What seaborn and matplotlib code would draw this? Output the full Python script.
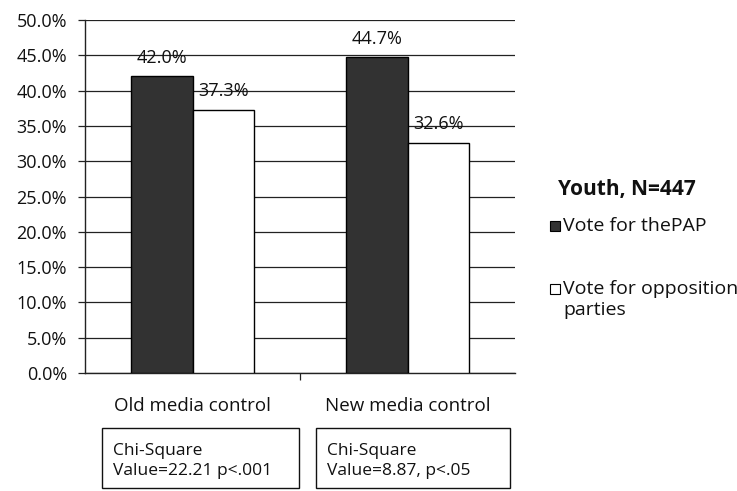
import matplotlib
matplotlib.use("Agg")
import matplotlib.pyplot as plt
from matplotlib.patches import Rectangle
from matplotlib.ticker import FuncFormatter, FixedLocator
import pandas as pd
import seaborn as sns

categories = ["Old media control", "New media control"]
series_names = ["Vote for thePAP", "Vote for opposition\nparties"]
pap_values = [42.0, 44.7]
opposition_values = [37.3, 32.6]
chi_square_notes = ["Chi-Square\nValue=22.21 p<.001", "Chi-Square\nValue=8.87, p<.05"]
legend_title = "Youth, N=447"

df = pd.DataFrame({
    "category": categories * 2,
    "series": [series_names[0]] * 2 + [series_names[1]] * 2,
    "value": pap_values + opposition_values,
})

sns.set_theme(style="white")
plt.rcParams["font.family"] = ["Open Sans", "DejaVu Sans"]

W, H = 737, 491
fig = plt.figure(figsize=(W / 100, H / 100), dpi=100)
ax = fig.add_axes([85 / W, 1 - 373 / H, 430 / W, 353 / H])

colors = {series_names[0]: "#323232", series_names[1]: "#ffffff"}
sns.barplot(data=df, x="category", y="value", hue="series", order=categories,
            hue_order=series_names, palette=colors, width=0.57, gap=0,
            edgecolor="black", linewidth=1.0, legend=False, ax=ax, zorder=3)

ax.set_ylim(0, 50)
ax.set_xlim(-0.5, 1.5)
ax.yaxis.set_major_locator(FixedLocator([i * 5 for i in range(11)]))
ax.yaxis.set_major_formatter(FuncFormatter(lambda v, _: f"{v:.1f}%"))
ax.grid(axis="y", color="#222222", linewidth=0.9, zorder=0)
ax.set_axisbelow(True)
for side in ["top", "right"]:
    ax.spines[side].set_visible(False)
for side in ["left", "bottom"]:
    ax.spines[side].set_color("#222222")
    ax.spines[side].set_linewidth(1.0)
ax.tick_params(axis="y", which="major", left=True, length=5, width=0.9,
               color="#222222", labelsize=13, labelcolor="#111111", pad=8)
ax.tick_params(axis="x", which="major", bottom=False, labelsize=13.5,
               labelcolor="#111111", pad=11)
ax.xaxis.set_minor_locator(FixedLocator([0.5]))
ax.tick_params(axis="x", which="minor", bottom=True, length=5, width=0.9,
               color="#222222")
ax.set_xlabel("")
ax.set_ylabel("")

# value labels above each bar
for container in ax.containers:
    ax.bar_label(container, labels=[f"{b.get_height():.1f}%" for b in container],
                 padding=7, fontsize=13, color="#111111")

# legend on the right: bold title, square swatches, labels
fig.text(558 / W, 1 - 190 / H, legend_title, ha="left", va="center",
         fontsize=15, fontweight="bold", color="#111111")
swatch_rows = [226, 289]
for name, row in zip(series_names, swatch_rows):
    fig.patches.append(Rectangle((550 / W, 1 - (row + 5) / H), 10 / W, 10 / H,
                                 transform=fig.transFigure, facecolor=colors[name],
                                 edgecolor="black", linewidth=0.8))
    fig.text(563 / W, 1 - (row - 9) / H, name, ha="left", va="top",
             fontsize=14, color="#111111", linespacing=1.2)

# chi-square annotation boxes beneath each category
boxes = [(102, 299), (316, 510)]
for (x0, x1), note in zip(boxes, chi_square_notes):
    fig.patches.append(Rectangle((x0 / W, 1 - 488 / H), (x1 - x0) / W, 60 / H,
                                 transform=fig.transFigure, facecolor="white",
                                 edgecolor="#111111", linewidth=1.0))
    fig.text((x0 + 11) / W, 1 - 443 / H, note, ha="left", va="top",
             fontsize=12.5, color="#111111", linespacing=1.3)

fig.savefig("out.png", dpi=100)
